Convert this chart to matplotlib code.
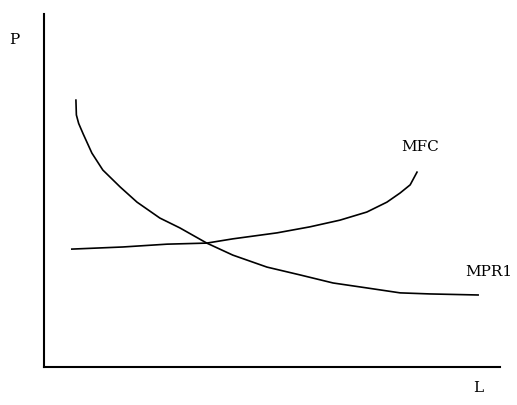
import matplotlib
matplotlib.use("Agg")
import matplotlib.pyplot as plt

# Curve data (L on x, P on y, arbitrary units 0-100) :
mpr1_l = [7.0, 7.1, 7.6, 8.6, 10.5, 12.9, 16.7, 20.4, 25.4, 29.8, 35.7, 41.4, 48.9,
          56.1, 63.4, 70.8, 78.1, 84.6, 95.2]
mpr1_p = [75.6, 71.4, 69.0, 66.0, 60.6, 55.8, 51.0, 46.7, 42.2, 39.4, 35.1, 31.7, 28.3,
          26.1, 23.8, 22.4, 21.0, 20.7, 20.4]

mfc_l = [6.1, 17.3, 27.0, 35.7, 41.4, 51.1, 58.3, 64.9, 70.8, 75.2, 78.1, 80.3, 81.8]
mfc_p = [33.4, 34.0, 34.8, 35.1, 36.3, 38.0, 39.7, 41.6, 43.9, 46.7, 49.3, 51.6, 55.2]

fig = plt.figure(figsize=(5.17, 4.05), dpi=100)
ax = fig.add_axes([44 / 517, 38 / 405, 456 / 517, 353 / 405])

ax.plot(mpr1_l, mpr1_p, color="black", linewidth=1.2)
ax.plot(mfc_l, mfc_p, color="black", linewidth=1.2)

ax.set_xlim(0, 100)
ax.set_ylim(0, 100)
ax.spines["top"].set_visible(False)
ax.spines["right"].set_visible(False)
ax.spines["left"].set_linewidth(1.5)
ax.spines["bottom"].set_linewidth(1.5)
ax.set_xticks([])
ax.set_yticks([])

font = dict(family="DejaVu Serif", fontsize=11, color="black")
ax.text(-6.6, 92.6, "P", ha="center", va="center", clip_on=False, **font)
ax.text(95.2, -6.0, "L", ha="center", va="center", clip_on=False, **font)
ax.text(82.5, 62.3, "MFC", ha="center", va="center", **font)
ax.text(97.6, 26.9, "MPR1", ha="center", va="center", clip_on=False, **font)

fig.savefig("out.png", dpi=100)
